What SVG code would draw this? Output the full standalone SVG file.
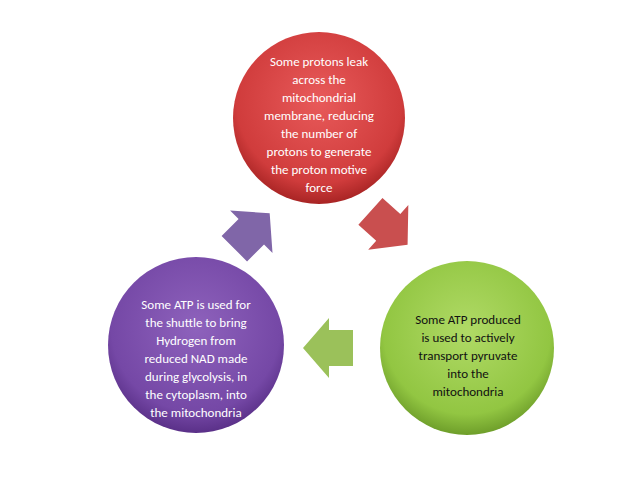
<svg xmlns="http://www.w3.org/2000/svg" width="638" height="478" viewBox="0 0 638 478">
<style>
text{font-family:Carlito,"Open Sans","Liberation Sans",sans-serif;font-size:13px;text-anchor:middle}
.w{fill:#fff}.k{fill:#111}
</style>
<defs>
<radialGradient id="gr" cx="50%" cy="40%" r="60%"><stop offset="0" stop-color="#e85a5a"/><stop offset="0.8" stop-color="#d03c3c"/><stop offset="1" stop-color="#a82424"/></radialGradient>
<radialGradient id="gg" cx="50%" cy="40%" r="60%"><stop offset="0" stop-color="#b0da66"/><stop offset="0.8" stop-color="#92c642"/><stop offset="1" stop-color="#6e9e2a"/></radialGradient>
<radialGradient id="gp" cx="50%" cy="40%" r="60%"><stop offset="0" stop-color="#8e62bc"/><stop offset="0.8" stop-color="#7548a6"/><stop offset="1" stop-color="#5a3088"/></radialGradient>
<path id="arr" d="M-25,-18 L-1,-18 L-1,-30 L25,0 L-1,30 L-1,18 L-25,18 Z"/>
</defs>
<g id="node-red"><circle cx="319" cy="118" r="86" fill="url(#gr)"/>
<text class="w"><tspan x="319" y="66">Some protons leak</tspan><tspan x="319" y="84">across the</tspan><tspan x="319" y="102">mitochondrial</tspan><tspan x="319" y="120">membrane, reducing</tspan><tspan x="319" y="138">the number of</tspan><tspan x="319" y="156">protons to generate</tspan><tspan x="319" y="174">the proton motive</tspan><tspan x="319" y="192">force</tspan></text></g>
<g id="node-green"><circle cx="467" cy="348" r="87" fill="url(#gg)"/>
<text class="k"><tspan x="468" y="324">Some ATP produced</tspan><tspan x="468" y="342">is used to actively</tspan><tspan x="468" y="360">transport pyruvate</tspan><tspan x="468" y="378">into the</tspan><tspan x="468" y="396">mitochondria</tspan></text></g>
<g id="node-purple"><circle cx="196" cy="345" r="88" fill="url(#gp)"/>
<text class="w"><tspan x="196" y="309">Some ATP is used for</tspan><tspan x="196" y="327">the shuttle to bring</tspan><tspan x="196" y="345">Hydrogen from</tspan><tspan x="196" y="363">reduced NAD made</tspan><tspan x="196" y="381">during glycolysis, in</tspan><tspan x="196" y="399">the cytoplasm, into</tspan><tspan x="196" y="417">the mitochondria</tspan></text></g>
<g id="connectors">
<use href="#arr" fill="#c94f4f" transform="translate(389,228) rotate(42)"/>
<use href="#arr" fill="#9bc15a" transform="translate(328,348) rotate(180)"/>
<use href="#arr" fill="#8066a8" transform="translate(252,231) rotate(-45)"/>
</g>
</svg>
